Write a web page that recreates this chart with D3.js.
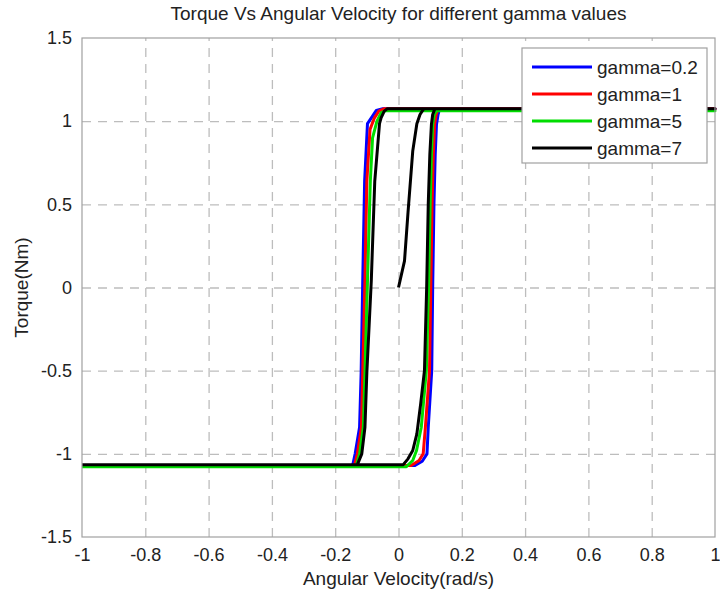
<!DOCTYPE html>
<html>
<head>
<meta charset="utf-8">
<script src="https://cdn.jsdelivr.net/npm/d3@7"></script>
<style>
  body { margin: 0; background: #fff; }
  text { font-family: "Liberation Sans", Arial, sans-serif; fill: #222; }
</style>
</head>
<body>
<div id="container"></div>
<script>
/* CONSTANTS AND GLOBALS */
const width = 720,
  height = 594,
  margin = { top: 38, bottom: 57, left: 82, right: 5 };

const xTicks = [-1, -0.8, -0.6, -0.4, -0.2, 0, 0.2, 0.4, 0.6, 0.8, 1];
const yTicks = [-1.5, -1, -0.5, 0, 0.5, 1, 1.5];
const xTickLabels = ["-1", "-0.8", "-0.6", "-0.4", "-0.2", "0", "0.2", "0.4", "0.6", "0.8", "1"];
const yTickLabels = ["-1.5", "-1", "-0.5", "0", "0.5", "1", "1.5"];

const seriesNames = ["gamma=0.2", "gamma=1", "gamma=5", "gamma=7"];
const seriesColors = ["#0000ff", "#ff0000", "#00dd00", "#000000"];

// each loop: bottom line from -1, up the right branch, top line to 1, back along top, down the left branch, to -1
const blueLoop = [
  [-1, -1.07], [0.052, -1.07], [0.075, -1.045], [0.09, -1.0], [0.094, -0.84], [0.105, -0.5], [0.108, 0],
  [0.112, 0.5], [0.116, 0.8], [0.12, 0.98], [0.125, 1.04], [0.13, 1.075], [1, 1.075],
  [-0.05, 1.075], [-0.07, 1.065], [-0.082, 1.03], [-0.098, 0.985], [-0.107, 0.64], [-0.113, 0.04],
  [-0.118, -0.51], [-0.123, -0.84], [-0.137, -1.0], [-0.145, -1.07], [-1, -1.07]
];
const redLoop = [
  [-1, -1.07], [0.04, -1.07], [0.065, -1.04], [0.078, -1.0], [0.085, -0.84], [0.098, -0.5], [0.102, 0],
  [0.106, 0.5], [0.11, 0.8], [0.114, 0.98], [0.119, 1.04], [0.125, 1.075], [1, 1.075],
  [-0.045, 1.075], [-0.062, 1.06], [-0.076, 1.02], [-0.09, 0.95], [-0.1, 0.64], [-0.106, 0.04],
  [-0.113, -0.51], [-0.117, -0.84], [-0.13, -1.0], [-0.139, -1.07], [-1, -1.07]
];
const greenLoop = [
  [-1, -1.077], [0.025, -1.077], [0.045, -1.04], [0.057, -0.98], [0.072, -0.84], [0.088, -0.5], [0.095, 0],
  [0.1, 0.5], [0.104, 0.8], [0.108, 0.98], [0.113, 1.04], [0.12, 1.063], [1, 1.063],
  [-0.04, 1.063], [-0.055, 1.05], [-0.068, 1.0], [-0.082, 0.9], [-0.089, 0.64], [-0.098, 0.04],
  [-0.106, -0.51], [-0.111, -0.84], [-0.123, -1.0], [-0.134, -1.077], [-1, -1.077]
];
const blackLoop = [
  [-1, -1.065], [0.015, -1.065], [0.03, -1.03], [0.045, -0.98], [0.058, -0.88], [0.07, -0.7], [0.082, -0.5],
  [0.089, 0], [0.094, 0.5], [0.099, 0.8], [0.104, 0.98], [0.108, 1.04], [0.115, 1.075], [1, 1.075],
  [-0.035, 1.075], [-0.045, 1.06], [-0.055, 1.02], [-0.06, 0.985], [-0.075, 0.64], [-0.086, 0.04],
  [-0.1, -0.51], [-0.106, -0.84], [-0.116, -1.0], [-0.13, -1.065], [-1, -1.065]
];
// gamma=7 start-up from the origin
const blackStart = [
  [0, 0], [0.019, 0.16], [0.03, 0.45], [0.045, 0.82], [0.058, 0.985], [0.068, 1.04], [0.08, 1.075]
];

const curves = [
  { name: seriesNames[0], color: seriesColors[0], pts: blueLoop },
  { name: seriesNames[1], color: seriesColors[1], pts: redLoop },
  { name: seriesNames[2], color: seriesColors[2], pts: greenLoop },
  { name: seriesNames[3], color: seriesColors[3], pts: blackLoop },
  { name: seriesNames[3], color: seriesColors[3], pts: blackStart }
];

/* SCALES */
const xScale = d3.scaleLinear().domain([-1, 1]).range([margin.left, width - margin.right]);
const yScale = d3.scaleLinear().domain([-1.5, 1.5]).range([height - margin.bottom, margin.top]);

const svg = d3.select("#container").append("svg")
  .attr("width", width)
  .attr("height", height);

const plotW = xScale.range()[1] - xScale.range()[0];
const plotH = yScale.range()[0] - yScale.range()[1];

// + GRID
svg.append("g")
  .attr("transform", `translate(0, ${height - margin.bottom})`)
  .call(d3.axisBottom(xScale).tickValues(xTicks.slice(1, -1)).tickSize(-plotH).tickFormat(""))
  .call(g => g.select(".domain").remove())
  .selectAll("line")
  .attr("stroke", "#bdbdbd")
  .attr("stroke-width", 1.3)
  .attr("stroke-dasharray", "9,7");

svg.append("g")
  .attr("transform", `translate(${margin.left}, 0)`)
  .call(d3.axisLeft(yScale).tickValues(yTicks.slice(1, -1)).tickSize(-plotW).tickFormat(""))
  .call(g => g.select(".domain").remove())
  .selectAll("line")
  .attr("stroke", "#bdbdbd")
  .attr("stroke-width", 1.3)
  .attr("stroke-dasharray", "9,7");

// + AXES (labels only, box drawn below)
const xAxisGroup = svg.append("g")
  .attr("transform", `translate(0, ${height - margin.bottom})`)
  .call(d3.axisBottom(xScale).tickValues(xTicks).tickSize(0).tickPadding(11)
    .tickFormat((d, i) => xTickLabels[i]));
xAxisGroup.select(".domain").remove();
xAxisGroup.selectAll("text").attr("font-size", 18).style("font-family", "'Liberation Sans', Arial, sans-serif").attr("fill", "#222");

const yAxisGroup = svg.append("g")
  .attr("transform", `translate(${margin.left}, 0)`)
  .call(d3.axisLeft(yScale).tickValues(yTicks).tickSize(0).tickPadding(10)
    .tickFormat((d, i) => yTickLabels[i]));
yAxisGroup.select(".domain").remove();
yAxisGroup.selectAll("text").attr("font-size", 18).style("font-family", "'Liberation Sans', Arial, sans-serif").attr("fill", "#222");

// + LINES
const lineGen = d3.line()
  .x(d => xScale(d[0]))
  .y(d => yScale(d[1]));

svg.append("g").selectAll("path")
  .data(curves)
  .join("path")
  .attr("fill", "none")
  .attr("stroke", d => d.color)
  .attr("stroke-width", 3)
  .attr("stroke-linejoin", "round")
  .attr("d", d => lineGen(d.pts));

// box
svg.append("rect")
  .attr("x", xScale(-1))
  .attr("y", yScale(1.5))
  .attr("width", plotW)
  .attr("height", plotH)
  .attr("fill", "none")
  .attr("stroke", "#a0a0a0")
  .attr("stroke-width", 1.2);

// + LEGEND
const legend = svg.append("g").attr("transform", "translate(522, 48)");
legend.append("rect")
  .attr("width", 185)
  .attr("height", 115)
  .attr("fill", "#fff")
  .attr("stroke", "#a0a0a0")
  .attr("stroke-width", 1.2);
const rows = legend.selectAll("g.row")
  .data(seriesNames)
  .join("g")
  .attr("class", "row")
  .attr("transform", (d, i) => `translate(0, ${19 + i * 27})`);
rows.append("line")
  .attr("x1", 10).attr("x2", 70)
  .attr("stroke", (d, i) => seriesColors[i])
  .attr("stroke-width", 3);
rows.append("text")
  .attr("x", 75)
  .attr("dy", "0.35em")
  .attr("font-size", 19)
  .text(d => d);

// + TITLES
svg.append("text")
  .attr("x", (xScale(-1) + xScale(1)) / 2)
  .attr("y", 20)
  .attr("text-anchor", "middle")
  .attr("font-size", 19)
  .text("Torque Vs Angular Velocity for different gamma values");

svg.append("text")
  .attr("x", (xScale(-1) + xScale(1)) / 2)
  .attr("y", 585)
  .attr("text-anchor", "middle")
  .attr("font-size", 19)
  .text("Angular Velocity(rad/s)");

svg.append("text")
  .attr("transform", `translate(28, ${yScale(0)}) rotate(-90)`)
  .attr("text-anchor", "middle")
  .attr("font-size", 19)
  .text("Torque(Nm)");
</script>
</body>
</html>
